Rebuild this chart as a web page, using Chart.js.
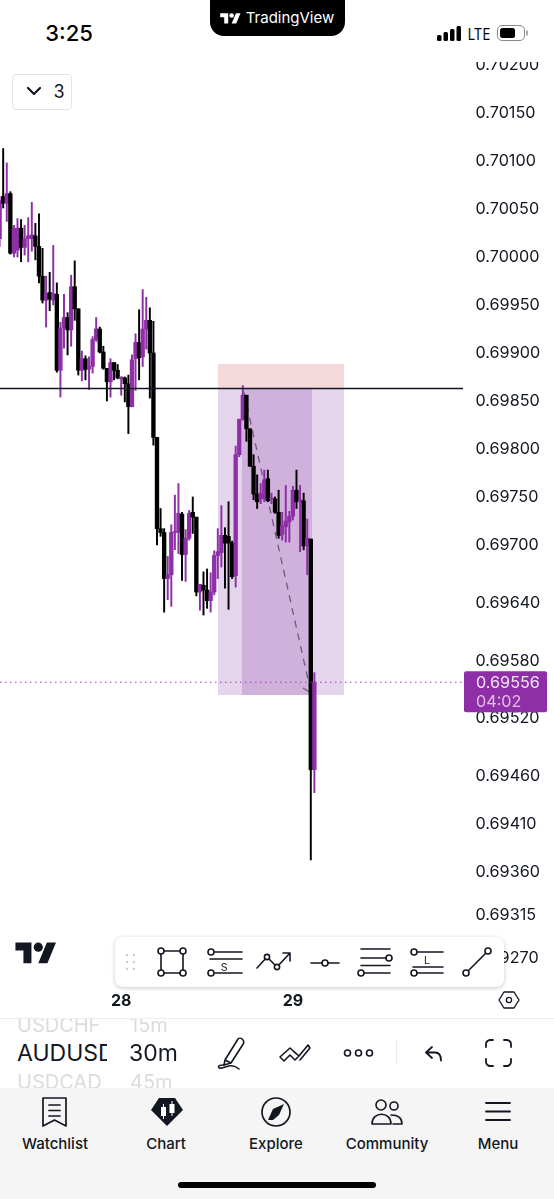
<!DOCTYPE html>
<html>
<head>
<meta charset="utf-8">
<title>AUDUSD 30m</title>
<script src="https://cdn.jsdelivr.net/npm/chart.js@4/dist/chart.umd.min.js"></script>
<style>
html, body { margin: 0; padding: 0; background: #fff; }
body { position: relative; width: 554px; height: 1199px; overflow: hidden; font-family: Inter, "Noto Sans", sans-serif; color: #131722; }
#chartBox { position: absolute; left: 0; top: 0; width: 554px; height: 1018px; }
.abs { position: absolute; white-space: nowrap; }
.ctr { transform: translate(-50%, -50%); }
svg { position: absolute; overflow: visible; fill: none; stroke: #131722; stroke-width: 1.6; stroke-linecap: round; stroke-linejoin: round; }
.navlabel { font-size: 15px; font-weight: 500; top: 1143px; }
.sym { font-size: 23px; }
.faded { font-size: 20px; color: #dcdcde; }
</style>
</head>
<body>
<div id="chartBox"><canvas id="priceChart" width="554" height="1018"></canvas></div>

<!-- status bar and header -->
<div class="abs" style="left:0;top:0;width:554px;height:62px;background:#fff"></div>
<div class="abs ctr" style="left:69px;top:33px;font-size:22px;font-weight:500;color:#000">3:25</div>
<div class="abs" style="left:210px;top:-2px;width:135px;height:38px;background:#000;border-radius:0 0 14px 14px"></div>
<svg style="left:220px;top:11px;fill:#fff;stroke:none" width="21" height="16" viewBox="0 0 36 28"><path d="M14 22H7V11H0V4h14v18zM28 22h-8l7.5-18h8L28 22z"/><circle cx="20" cy="8" r="4"/></svg>
<div class="abs ctr" style="left:290px;top:17px;font-size:15px;color:#fff">TradingView</div>
<svg style="left:437px;top:26px;stroke:none;fill:#000" width="26" height="16"><rect x="0" y="9" width="4.5" height="6" rx="1.5"/><rect x="6.5" y="6" width="4.5" height="9" rx="1.5"/><rect x="13" y="3" width="4.5" height="12" rx="1.5"/><rect x="19.5" y="0" width="4.5" height="15" rx="1.5"/></svg>
<div class="abs ctr" style="left:479px;top:34px;font-size:15.5px;color:#000;transform:translate(-50%,-50%) scaleX(.85)">LTE</div>
<svg style="left:497px;top:25px;stroke:#8a8a8e;stroke-width:1" width="32" height="18"><rect x=".5" y=".5" width="27" height="15" rx="4.5"/><rect x="3" y="3" width="15" height="10" rx="2.5" fill="#000" stroke="none"/><path d="M30 6v4" stroke-width="1.4"/></svg>

<!-- collapsed indicator legend -->
<div class="abs" style="left:12px;top:74px;width:58px;height:34px;border:1px solid #e0e3eb;border-radius:4px;background:#fff"></div>
<svg style="left:27px;top:87px;stroke-width:2.2" width="14" height="9"><path d="M1 1l6 6 6-6"/></svg>
<div class="abs ctr" style="left:59px;top:91px;font-size:18px">3</div>

<!-- bottom-left logo -->
<svg style="left:15px;top:938px;fill:#131722;stroke:none" width="42" height="32" viewBox="0 0 36 28"><path d="M14 22H7V11H0V4h14v18zM28 22h-8l7.5-18h8L28 22z"/><circle cx="20" cy="8" r="4"/></svg>

<!-- floating drawing toolbar -->
<div class="abs" style="left:115px;top:937px;width:389px;height:50px;background:#fff;border-radius:8px;box-shadow:0 1px 4px rgba(0,0,0,.22)"></div>
<svg style="left:125px;top:953px;stroke:none;fill:#c9ccd3" width="12" height="18"><circle cx="2" cy="2" r="1.2"/><circle cx="9" cy="2" r="1.2"/><circle cx="2" cy="9" r="1.2"/><circle cx="9" cy="9" r="1.2"/><circle cx="2" cy="16" r="1.2"/><circle cx="9" cy="16" r="1.2"/></svg>
<svg style="left:156px;top:945px" width="34" height="32"><rect x="5" y="6" width="22" height="22"/><g fill="#fff"><circle cx="5" cy="6" r="3"/><circle cx="27" cy="6" r="3"/><circle cx="5" cy="28" r="3"/><circle cx="27" cy="28" r="3"/></g></svg>
<svg style="left:205px;top:945px" width="36" height="32"><path d="M10 7h27M5 14h32M10 28h27"/><circle cx="6" cy="7" r="3" fill="#fff"/><circle cx="6" cy="28" r="3" fill="#fff"/></svg>
<div class="abs ctr" style="left:224px;top:967px;font-size:10.5px">S</div>
<svg style="left:256px;top:948px" width="36" height="28"><path d="M1 20l10-11 10 10 13-14M27 5h7v8"/><circle cx="11" cy="9" r="2.6" fill="#fff"/><circle cx="21" cy="19" r="2.6" fill="#fff"/></svg>
<svg style="left:310px;top:957px" width="32" height="12"><path d="M1 6h28"/><circle cx="15" cy="6" r="3" fill="#fff"/></svg>
<svg style="left:358px;top:945px" width="36" height="32"><path d="M3 4h29M3 13h26M3 20.500h29M6 28h26"/><circle cx="31" cy="13" r="3" fill="#fff"/><circle cx="3" cy="28" r="3" fill="#fff"/></svg>
<svg style="left:408px;top:945px" width="36" height="32"><path d="M9 7h26M5 22h30M9 28h26"/><circle cx="6" cy="7" r="3" fill="#fff"/><circle cx="6" cy="28" r="3" fill="#fff"/></svg>
<div class="abs ctr" style="left:427px;top:960px;font-size:10.5px">L</div>
<svg style="left:463px;top:945px" width="32" height="32"><path d="M3 28L25 6"/><circle cx="3" cy="28" r="3" fill="#fff"/><circle cx="25" cy="6" r="3" fill="#fff"/></svg>

<!-- settings hexagon next to the time axis -->
<svg style="left:499px;top:991px;stroke-width:1.4" width="20" height="18"><path d="M5 1h10l5 8-5 8H5L0 9z"/><circle cx="10" cy="9" r="2.6"/></svg>

<!-- symbol and interval row -->
<div class="abs" style="left:0;top:1018px;width:554px;height:1px;background:#eeeeef"></div>
<div class="abs" style="left:17px;top:1019px;width:90px;height:69px;overflow:hidden">
  <div class="abs faded" style="left:0;top:-6px">USDCHF</div>
  <div class="abs sym" style="left:0;top:20px">AUDUSD</div>
  <div class="abs faded" style="left:0;top:51px">USDCAD</div>
</div>
<div class="abs" style="left:129px;top:1019px;width:60px;height:69px;overflow:hidden">
  <div class="abs faded" style="left:1px;top:-6px">15m</div>
  <div class="abs sym" style="left:0;top:20px">30m</div>
  <div class="abs faded" style="left:1px;top:51px">45m</div>
</div>
<svg style="left:216px;top:1037px" width="30" height="32"><path d="M9 23L22 2c1-1 3-1 4 0l1 1c1 1 1 2 .5 3.500L15 26z M9 23l-1 5 7-2"/><path d="M8 28c-8 0-6 4-2 3 5-1 10-5 17 1"/></svg>
<svg style="left:279px;top:1041px;stroke-width:1.6" width="32" height="24"><path d="M1 16L11 7l9 8-4 4-5-5-6 6zM15 11l5 4 9-11 2 3-10 12" /></svg>
<svg style="left:344px;top:1048px" width="30" height="10"><circle cx="3.500" cy="5" r="3"/><circle cx="14.500" cy="5" r="3"/><circle cx="25.500" cy="5" r="3"/></svg>
<div class="abs" style="left:396px;top:1040px;width:1px;height:25px;background:#ececee"></div>
<svg style="left:425px;top:1046px;stroke-width:1.8" width="18" height="16"><path d="M7 1L1 6.500 7 12M1 6.500h9c4 0 6 2 6 8"/></svg>
<svg style="left:485px;top:1039px;stroke-width:1.8" width="27" height="28"><path d="M1 8V5c0-2 2-4 4-4h3M19 1h3c2 0 4 2 4 4v3M26 20v3c0 2-2 4-4 4h-3M8 27H5c-2 0-4-2-4-4v-3"/></svg>

<!-- tab bar -->
<div class="abs" style="left:0;top:1088px;width:554px;height:111px;background:#f5f5f5"></div>
<svg style="left:42px;top:1097px;stroke-width:1.7" width="26" height="32"><path d="M1 1h23v28l-11.500-6L1 29zM7 8h11M7 13.500h11M7 19h11"/></svg>
<svg style="left:151px;top:1098px;stroke:none;fill:#131722" width="32" height="28"><path d="M8 0h16l8 12-16 16L0 12z"/><g fill="#fff"><rect x="10" y="9" width="5" height="9"/><rect x="12" y="6" width="1" height="15"/><rect x="18.500" y="6" width="5" height="9"/><rect x="20.500" y="3" width="1" height="15"/></g></svg>
<svg style="left:261px;top:1097px;stroke-width:1.7" width="30" height="30"><circle cx="15" cy="15" r="14"/><path d="M23 7l-5 11-6 5-5 0 5-11z" fill="#131722" stroke="none"/></svg>
<svg style="left:371px;top:1099px;stroke-width:1.6" width="32" height="26"><circle cx="10" cy="6" r="5"/><circle cx="23" cy="7" r="4"/><path d="M1 25c0-13 19-13 19 0zM22 25h9c0-7-5-9-11-9"/></svg>
<svg style="left:485px;top:1102px;stroke-width:1.8" width="26" height="20"><path d="M1 1h24M1 9.500h24M1 18h24"/></svg>
<div class="abs ctr navlabel" style="left:55px">Watchlist</div>
<div class="abs ctr navlabel" style="left:166px">Chart</div>
<div class="abs ctr navlabel" style="left:276px">Explore</div>
<div class="abs ctr navlabel" style="left:387px">Community</div>
<div class="abs ctr navlabel" style="left:498px">Menu</div>
<div class="abs" style="left:178px;top:1182px;width:198px;height:6px;background:#000;border-radius:3px"></div>

<script>
// AUDUSD 30 minute candles, oldest first
const opens = [0.70018,0.70062,0.70055,0.70065,0.70003,0.70006,0.70029,0.70009,0.70018,0.70018,
  0.70021,0.70010,0.69979,0.69954,0.69962,0.69954,0.69960,0.69881,0.69925,0.69936,
  0.69923,0.69968,0.69945,0.69881,0.69893,0.69882,0.69885,0.69913,0.69924,0.69900,
  0.69883,0.69869,0.69889,0.69881,0.69872,0.69873,0.69867,0.69843,0.69893,0.69910,
  0.69895,0.69924,0.69933,0.69899,0.69811,0.69716,0.69712,0.69664,0.69668,0.69712,
  0.69712,0.69731,0.69689,0.69706,0.69733,0.69728,0.69650,0.69657,0.69652,0.69641,
  0.69650,0.69688,0.69691,0.69709,0.69708,0.69701,0.69667,0.69793,0.69830,0.69855,
  0.69820,0.69781,0.69752,0.69747,0.69747,0.69768,0.69747,0.69747,0.69733,0.69710,
  0.69718,0.69723,0.69729,0.69756,0.69744,0.69745,0.69698,0.69705,0.69465];
const highs = [0.70062,0.70112,0.70097,0.70067,0.70032,0.70039,0.70038,0.70032,0.70040,0.70056,
  0.70034,0.70044,0.70008,0.69979,0.69983,0.70011,0.69972,0.69931,0.69960,0.69941,
  0.69980,0.69995,0.69945,0.69901,0.69896,0.69895,0.69916,0.69936,0.69926,0.69906,
  0.69883,0.69893,0.69889,0.69887,0.69874,0.69874,0.69876,0.69897,0.69919,0.69944,
  0.69965,0.69957,0.69946,0.69932,0.69811,0.69737,0.69716,0.69687,0.69720,0.69751,
  0.69763,0.69733,0.69715,0.69735,0.69749,0.69728,0.69658,0.69671,0.69674,0.69670,
  0.69693,0.69716,0.69740,0.69717,0.69744,0.69703,0.69802,0.69830,0.69865,0.69855,
  0.69820,0.69793,0.69772,0.69763,0.69777,0.69777,0.69753,0.69749,0.69756,0.69733,
  0.69761,0.69734,0.69760,0.69777,0.69761,0.69753,0.69726,0.69705,0.69566];
const lows = [0.70010,0.70050,0.70036,0.70002,0.69999,0.69999,0.69994,0.70001,0.69994,0.70005,
  0.69996,0.69972,0.69951,0.69926,0.69943,0.69949,0.69879,0.69853,0.69904,0.69897,
  0.69906,0.69933,0.69876,0.69870,0.69871,0.69861,0.69878,0.69911,0.69899,0.69882,
  0.69849,0.69853,0.69871,0.69872,0.69855,0.69848,0.69815,0.69843,0.69860,0.69871,
  0.69885,0.69903,0.69852,0.69803,0.69699,0.69708,0.69629,0.69642,0.69635,0.69694,
  0.69690,0.69662,0.69661,0.69704,0.69711,0.69646,0.69631,0.69626,0.69633,0.69629,
  0.69647,0.69664,0.69676,0.69654,0.69632,0.69664,0.69655,0.69791,0.69829,0.69807,
  0.69781,0.69746,0.69737,0.69742,0.69744,0.69744,0.69742,0.69732,0.69706,0.69704,
  0.69702,0.69702,0.69725,0.69737,0.69692,0.69694,0.69668,0.69371,0.69441];
const closes = [0.70058,0.70055,0.70065,0.70003,0.70029,0.70029,0.70009,0.70018,0.70021,0.70022,
  0.70010,0.69979,0.69954,0.69961,0.69955,0.69961,0.69881,0.69925,0.69936,0.69923,
  0.69968,0.69945,0.69881,0.69893,0.69882,0.69885,0.69913,0.69924,0.69900,0.69883,
  0.69869,0.69889,0.69881,0.69873,0.69874,0.69867,0.69843,0.69892,0.69910,0.69894,
  0.69924,0.69933,0.69899,0.69811,0.69716,0.69712,0.69664,0.69668,0.69712,0.69713,
  0.69732,0.69689,0.69706,0.69732,0.69728,0.69650,0.69658,0.69652,0.69641,0.69650,
  0.69688,0.69692,0.69709,0.69701,0.69701,0.69666,0.69793,0.69830,0.69855,0.69820,
  0.69781,0.69752,0.69744,0.69753,0.69767,0.69745,0.69748,0.69733,0.69709,0.69719,
  0.69724,0.69729,0.69756,0.69744,0.69746,0.69698,0.69706,0.69465,0.69556];

const priceTicks = [0.70200,0.70150,0.70100,0.70050,0.70000,0.69950,0.69900,0.69850,0.69800,0.69750,
  0.69700,0.69640,0.69580,0.69520,0.69460,0.69410,0.69360,0.69315,0.69270];
const dayTicks = [34, 82];
const dayLabels = ["28", "29"];

const priceMax = 0.702667;
const priceMin = 0.692406;
const barMin = 0.11;
const barMax = 129.55;

const lastPrice = 0.69556;
const countdown = "04:02";
const levelLine = 0.69862;

// short position tool: stop band, target band, and the part already reached
const positionStart = 61.05;
const positionEnd = 96.28;
const reachedStart = 67.76;
const reachedEnd = 87.33;
const stopTop = 0.698875;
const entryPrice = 0.69862;
const targetPrice = 0.695427;

const tradeX = [68.3, 87.05];
const tradeY = [0.69858, 0.69545];
const arrowX = [84.8, 87.05];
const arrowY = [0.69550, 0.69545];

const UP = '#8e2fa8';
const DOWN = '#000000';
const candleColor = i => closes[i] >= opens[i] ? UP : DOWN;

function band(x1, x2, top, bottom, color, order) {
    return {
        type: 'line', order: order,
        data: [{x: x1, y: top}, {x: x2, y: top}],
        fill: {value: bottom}, backgroundColor: color,
        borderWidth: 0, pointRadius: 0
    };
}

function segment(xs, ys, color, width, dash, order) {
    return {
        type: 'line', order: order,
        data: xs.map((x, i) => ({x: x, y: ys[i]})),
        borderColor: color, borderWidth: width, borderDash: dash,
        pointRadius: 0, fill: false
    };
}

// price tag drawn on the axis at the last close
const priceTag = {
    id: 'priceTag',
    afterDraw(chart) {
        const c = chart.ctx;
        const y = chart.scales.y.getPixelForValue(lastPrice);
        c.save();
        c.fillStyle = UP;
        c.beginPath();
        c.roundRect(464, y - 11, 83, 41, 2);
        c.fill();
        c.font = '16.2px Inter';
        c.textBaseline = 'middle';
        c.fillStyle = '#f3e6f6';
        c.fillText(lastPrice.toFixed(5), 476, y + 1);
        c.fillStyle = '#e0bfe8';
        c.fillText(countdown, 476, y + 20);
        c.restore();
    }
};

new Chart(document.getElementById('priceChart'), {
    type: 'bar',
    data: {
        datasets: [
            band(positionStart, positionEnd, stopTop, entryPrice, '#f6d9da', 12),
            band(positionStart, positionEnd, entryPrice, targetPrice, '#e5d5ec', 11),
            band(reachedStart, reachedEnd, entryPrice, targetPrice, '#cfb1dc', 10),
            segment(tradeX, tradeY, '#6d5a78', 1.3, [7, 6], 9),
            segment(arrowX, arrowY, '#6d5a78', 1.3, [], 9),
            {
                // wicks
                order: 5, grouped: false, barThickness: 1.3, borderWidth: 0,
                data: highs.map((h, i) => ({x: i, y: [lows[i], h]})),
                backgroundColor: ctx => candleColor(ctx.dataIndex)
            },
            {
                // bodies
                order: 4, grouped: false, barThickness: 3.7, borderWidth: 0,
                data: opens.map((o, i) => ({x: i, y: [o, closes[i]]})),
                backgroundColor: ctx => candleColor(ctx.dataIndex)
            },
            segment([barMin, barMax], [levelLine, levelLine], '#131722', 1.7, [], 2),
            segment([barMin, barMax], [lastPrice, lastPrice], '#9c3fb4', 1, [1.5, 3.5], 3)
        ]
    },
    options: {
        responsive: false,
        animation: false,
        events: [],
        layout: {padding: 0},
        plugins: {legend: {display: false}, tooltip: {enabled: false}},
        scales: {
            x: {
                type: 'linear', min: barMin, max: barMax, offset: false,
                grid: {display: false, drawTicks: false}, border: {display: false},
                afterBuildTicks: s => { s.ticks = dayTicks.map(v => ({value: v})); },
                afterFit: s => { s.height = 33; s.paddingLeft = 0; s.paddingRight = 0; },
                ticks: {
                    autoSkip: false, maxRotation: 0, padding: 7, color: '#131722',
                    font: {family: 'Inter', size: 16, weight: '700'},
                    callback: v => dayLabels[dayTicks.indexOf(v)]
                }
            },
            y: {
                type: 'linear', position: 'right', min: priceMin, max: priceMax,
                grid: {display: false, drawTicks: false}, border: {display: false},
                afterBuildTicks: s => { s.ticks = priceTicks.map(v => ({value: v})); },
                afterFit: s => { s.width = 91; s.paddingTop = 0; s.paddingBottom = 0; },
                ticks: {
                    autoSkip: false, padding: 12.5, labelOffset: 1.5, color: '#131722',
                    font: {family: 'Inter', size: 16.2},
                    callback: v => v.toFixed(5)
                }
            }
        }
    },
    plugins: [priceTag]
});
</script>
</body>
</html>
